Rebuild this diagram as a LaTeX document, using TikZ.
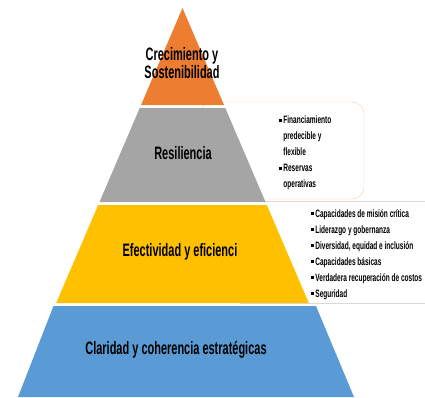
\documentclass[tikz,border=0pt]{standalone}
\usepackage{fontspec}
\setmainfont{Liberation Sans}[FakeStretch=0.61]
\definecolor{ptop}{HTML}{ED7D31}
\definecolor{pgray}{HTML}{A5A5A5}
\definecolor{pyel}{HTML}{FFC000}
\definecolor{pblue}{HTML}{5B9BD5}
\definecolor{boxline}{HTML}{F8CBAD}
\definecolor{boxgray}{HTML}{D9D9D9}
\newcommand\bul{\rule[2.4pt]{2.6pt}{2.6pt}\hspace{1.6pt}}
\newcommand\ind{\hspace*{4.2pt}}
\begin{document}
\begin{tikzpicture}[x=1pt, y=-1pt, level label/.style={align=center,font=\bfseries\fontsize{18}{18}\selectfont,inner sep=0pt},list text/.style={align=left,anchor=north west,inner sep=0pt,font=\bfseries\fontsize{10.7}{16}\selectfont}]
\useasboundingbox (0,0) rectangle (425,397);
\clip (0,0) rectangle (425,397);
\draw [boxline, fill=white, rounded corners=12pt] (200,102) rectangle (364,199);
\draw [boxgray, fill=white] (240,201) -- (440,201);
\draw [boxgray] (240,303) -- (440,303);
\fill [ptop] (182.5,8) -- (224,105) -- (141,105) -- cycle;
\fill [pgray] (139.7,108) -- (225.3,108) -- (265.5,202) -- (99.5,202) -- cycle;
\fill [pyel] (98.2,205) -- (266.8,205) -- (308.8,303) -- (56.2,303) -- cycle;
\fill [pblue] (53.5,306) -- (316,306) -- (354,397) -- (18,397) -- cycle;
\node [level label](crec) at (182,63) {Crecimiento y\\Sostenibilidad};
\node [level label](resil) at (183,153) {Resiliencia};
\node [level label](efect) at (180,252) {Efectividad y eficienci};
\node [level label](clar) at (176,350) {Claridad y coherencia estratégicas};
\node [list text](resil list) at (279,116) {\bul Financiamiento\\\ind predecible y\\\ind flexible\\\bul Reservas\\\ind operativas};
\node [list text](efect list) at (311,209) {\bul Capacidades de misión crítica\\\bul Liderazgo y gobernanza\\\bul Diversidad, equidad e inclusión\\\bul Capacidades básicas\\\bul Verdadera recuperación de costos\\\bul Seguridad};
\end{tikzpicture}
\end{document}
